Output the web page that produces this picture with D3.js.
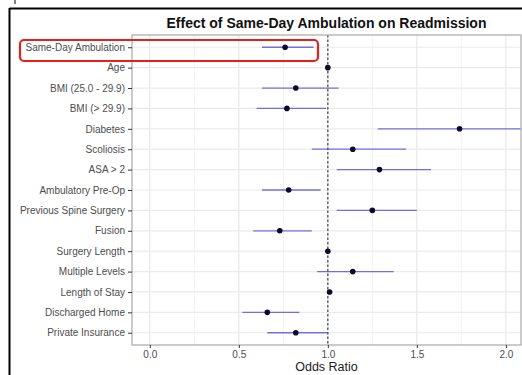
<!DOCTYPE html>
<html>
<head>
<meta charset="utf-8">
<script src="https://cdn.jsdelivr.net/npm/d3@7"></script>
<style>
  body { margin: 0; background: #fff; }
  svg { display: block; font-family: "Liberation Sans", Arial, sans-serif; }
</style>
</head>
<body>
<div id="chart"></div>
<script>
// chart data
let labels = ["Same-Day Ambulation", "Age", "BMI (25.0 - 29.9)", "BMI (> 29.9)", "Diabetes",
  "Scoliosis", "ASA > 2", "Ambulatory Pre-Op", "Previous Spine Surgery", "Fusion",
  "Surgery Length", "Multiple Levels", "Length of Stay", "Discharged Home", "Private Insurance"];
let oddsRatio = [0.76, 1.00, 0.82, 0.77, 1.74, 1.14, 1.29, 0.78, 1.25, 0.73, 1.00, 1.14, 1.01, 0.66, 0.82];
let lowerCI  = [0.63, 0.99, 0.63, 0.60, 1.28, 0.91, 1.05, 0.63, 1.05, 0.58, 0.99, 0.94, 1.00, 0.52, 0.66];
let upperCI  = [0.92, 1.01, 1.06, 0.99, 2.40, 1.44, 1.58, 0.96, 1.50, 0.91, 1.01, 1.37, 1.02, 0.84, 1.00];
let xTicks = [0, 0.5, 1, 1.5, 2];
let minorTicks = [0.25, 0.75, 1.25, 1.75];

let svgWidth = 522, svgHeight = 375;
let panel = { left: 132, top: 35, right: 521, bottom: 345 };

let svg = d3.select("#chart").append("svg")
  .attr("width", svgWidth)
  .attr("height", svgHeight);

// page frame (cropped document edges)
svg.append("line").attr("x1", 9.5).attr("x2", 522).attr("y1", 8.5).attr("y2", 8.5)
  .attr("stroke", "#000").attr("stroke-width", 2);
svg.append("line").attr("x1", 9.5).attr("x2", 9.5).attr("y1", 8).attr("y2", 375)
  .attr("stroke", "#000").attr("stroke-width", 2);
svg.append("line").attr("x1", 15).attr("x2", 15).attr("y1", 0).attr("y2", 4)
  .attr("stroke", "#000").attr("stroke-width", 1);

let x = d3.scaleLinear()
  .domain([-0.1, 2.085])
  .range([panel.left, panel.right]);

let y = d3.scalePoint()
  .domain(labels)
  .range([panel.top, panel.bottom])
  .padding(0.6);

let chartGroup = svg.append("g");

// clip for the panel
svg.append("clipPath").attr("id", "panelClip")
  .append("rect")
  .attr("x", panel.left).attr("y", panel.top)
  .attr("width", panel.right - panel.left).attr("height", panel.bottom - panel.top);

// minor gridlines
chartGroup.append("g").selectAll("line")
  .data(minorTicks).enter().append("line")
  .attr("x1", d => x(d)).attr("x2", d => x(d))
  .attr("y1", panel.top).attr("y2", panel.bottom)
  .attr("stroke", "#f2f2f2").attr("stroke-width", 1);

// major gridlines
chartGroup.append("g").selectAll("line")
  .data(xTicks).enter().append("line")
  .attr("x1", d => x(d)).attr("x2", d => x(d))
  .attr("y1", panel.top).attr("y2", panel.bottom)
  .attr("stroke", "#e8e8e8").attr("stroke-width", 1.2);

chartGroup.append("g").selectAll("line")
  .data(labels).enter().append("line")
  .attr("x1", panel.left).attr("x2", panel.right)
  .attr("y1", d => y(d)).attr("y2", d => y(d))
  .attr("stroke", "#ebebeb").attr("stroke-width", 1.2);

// reference line at 1
chartGroup.append("line")
  .attr("x1", x(1)).attr("x2", x(1))
  .attr("y1", panel.top).attr("y2", panel.bottom)
  .attr("stroke", "#444").attr("stroke-width", 1.2)
  .attr("stroke-dasharray", "2.5,2");

// confidence intervals
chartGroup.append("g").attr("clip-path", "url(#panelClip)")
  .selectAll("line")
  .data(labels).enter().append("line")
  .attr("x1", (d, i) => x(lowerCI[i]))
  .attr("x2", (d, i) => x(upperCI[i]))
  .attr("y1", d => y(d)).attr("y2", d => y(d))
  .attr("stroke", "#3a3ad8").attr("stroke-opacity", 0.7)
  .attr("stroke-width", 1.3);

// points
chartGroup.append("g").selectAll("circle")
  .data(labels).enter().append("circle")
  .attr("cx", (d, i) => x(oddsRatio[i]))
  .attr("cy", d => y(d))
  .attr("r", 2.8)
  .attr("fill", "#0a0a2a");

// panel border
chartGroup.append("rect")
  .attr("x", panel.left).attr("y", panel.top)
  .attr("width", panel.right - panel.left).attr("height", panel.bottom - panel.top)
  .attr("fill", "none").attr("stroke", "#a8a8a8").attr("stroke-width", 1.2);

// axes
let bottomAxis = d3.axisBottom(x).tickValues(xTicks).tickFormat(d3.format(".1f"))
  .tickSize(3).tickPadding(3);
let leftAxis = d3.axisLeft(y).tickSize(4).tickPadding(3);

let gx = chartGroup.append("g")
  .attr("transform", `translate(0, ${panel.bottom})`)
  .call(bottomAxis);
let gy = chartGroup.append("g")
  .attr("transform", `translate(${panel.left}, 0)`)
  .call(leftAxis);

[gx, gy].forEach(g => {
  g.select(".domain").remove();
  g.selectAll(".tick line").attr("stroke", "#333");
  g.selectAll(".tick text").attr("fill", "#4d4d4d")
    .style("font-family", "'Liberation Sans', Arial, sans-serif")
    .style("font-size", "10px");
});

// axis title
svg.append("text")
  .attr("x", (panel.left + panel.right) / 2)
  .attr("y", 371)
  .attr("text-anchor", "middle")
  .style("font-size", "12.5px")
  .attr("fill", "#222")
  .text("Odds Ratio");

// chart title
svg.append("text")
  .attr("x", (panel.left + panel.right) / 2)
  .attr("y", 28)
  .attr("text-anchor", "middle")
  .style("font-size", "14px")
  .style("font-weight", "bold")
  .attr("fill", "#111")
  .text("Effect of Same-Day Ambulation on Readmission");

// red highlight box
svg.append("rect")
  .attr("x", 20).attr("y", 40)
  .attr("width", 298).attr("height", 21)
  .attr("rx", 4)
  .attr("fill", "none")
  .attr("stroke", "#e3201b").attr("stroke-width", 2.2);
</script>
</body>
</html>
